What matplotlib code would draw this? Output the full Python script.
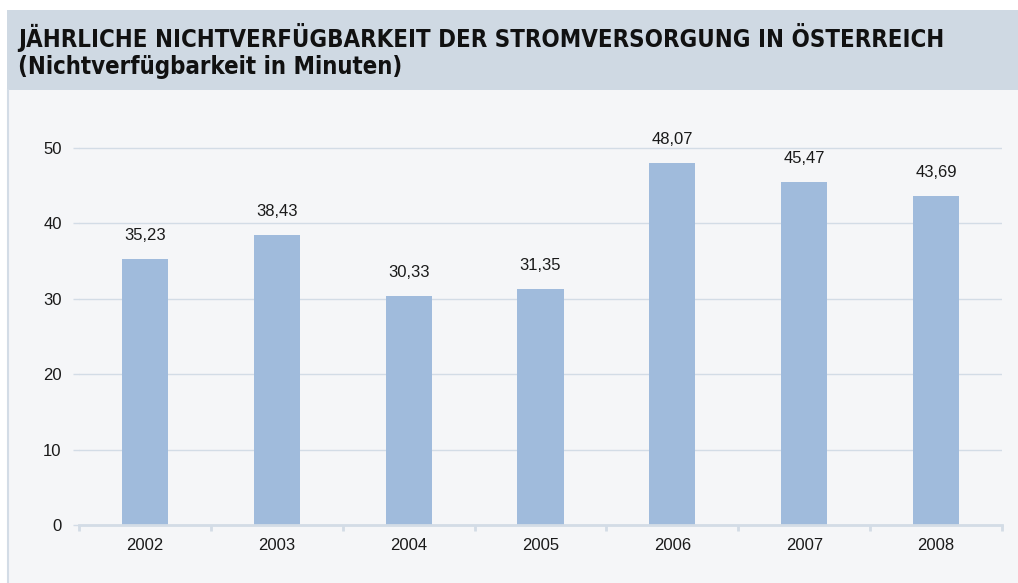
import matplotlib
matplotlib.use("Agg")
import matplotlib.pyplot as plt
from matplotlib.patches import Rectangle
from matplotlib.ticker import FixedLocator, NullFormatter

years = ["2002", "2003", "2004", "2005", "2006", "2007", "2008"]
values = [35.23, 38.43, 30.33, 31.35, 48.07, 45.47, 43.69]
value_labels = ["35,23", "38,43", "30,33", "31,35", "48,07", "45,47", "43,69"]
yticks = [0, 10, 20, 30, 40, 50]
title_line1 = "JÄHRLICHE NICHTVERFÜGBARKEIT DER STROMVERSORGUNG IN ÖSTERREICH"
title_line2 = "(Nichtverfügbarkeit in Minuten)"

W, H = 1018, 583
fig = plt.figure(figsize=(W / 100, H / 100), dpi=100)
fig.patch.set_facecolor("white")

def fx(px):
    return px / W

def fy(py):
    return 1 - py / H

# background panels
fig.patches.append(Rectangle((fx(7), fy(583)), fx(1011), (583 - 90) / H,
                             transform=fig.transFigure, facecolor="#f5f6f8",
                             edgecolor="none", zorder=-10))
fig.patches.append(Rectangle((fx(7), fy(90)), fx(1011), 80 / H,
                             transform=fig.transFigure, facecolor="#cfd9e3",
                             edgecolor="none", zorder=-10))
fig.add_artist(plt.Line2D([fx(7.5), fx(7.5)], [0, fy(90)], transform=fig.transFigure,
                          color="#d3dce6", lw=1.5, zorder=-9))

fig.text(fx(18), fy(38), title_line1, fontsize=17.2, fontweight="bold",
         family="DejaVu Sans", fontstretch="condensed", color="#111111",
         va="center", ha="left")
fig.text(fx(18), fy(67), title_line2, fontsize=17.2, fontweight="bold",
         family="DejaVu Sans", fontstretch="condensed", color="#111111",
         va="center", ha="left")

# axes
ymax = 55
ppu = (525 - 148) / 50
top_px = 525 - ymax * ppu
ax = fig.add_axes([fx(79), fy(525), fx(1002 - 79), (525 - top_px) / H])
ax.set_facecolor("none")
ax.set_xlim(-0.5, len(years) - 0.5)
ax.set_ylim(0, ymax)

grid_color = "#d3dce6"
text_color = "#1a1a1a"
fs = 12
x = list(range(len(years)))
ax.bar(x, values, width=0.35, color="#a0bbdc", zorder=2)
for xi, v, lab in zip(x, values, value_labels):
    ax.annotate(lab, (xi, v), xytext=(0, 11.5), textcoords="offset points",
                ha="center", va="bottom", fontsize=fs, family="Liberation Sans",
                color=text_color)

ax.set_yticks(yticks)
ax.set_yticklabels([str(t) for t in yticks], family="Liberation Sans",
                   fontsize=fs, color=text_color)
for t in yticks[1:]:
    ax.axhline(t, color=grid_color, lw=1, zorder=1)
ax.tick_params(axis="y", length=4.5, width=1, color=grid_color, pad=8)

ax.set_xticks(x)
ax.set_xticklabels(years, family="Liberation Sans", fontsize=fs, color=text_color)
ax.xaxis.set_minor_locator(FixedLocator([i - 0.5 for i in range(len(years) + 1)]))
ax.xaxis.set_minor_formatter(NullFormatter())
ax.tick_params(axis="x", which="major", length=0, pad=9)
ax.tick_params(axis="x", which="minor", length=4, width=2, color=grid_color)

for s in ["top", "right", "left"]:
    ax.spines[s].set_visible(False)
ax.spines["bottom"].set_color(grid_color)
ax.spines["bottom"].set_linewidth(2)
ax.spines["bottom"].set_zorder(3)

fig.savefig("out.png", dpi=100, facecolor=fig.get_facecolor())
